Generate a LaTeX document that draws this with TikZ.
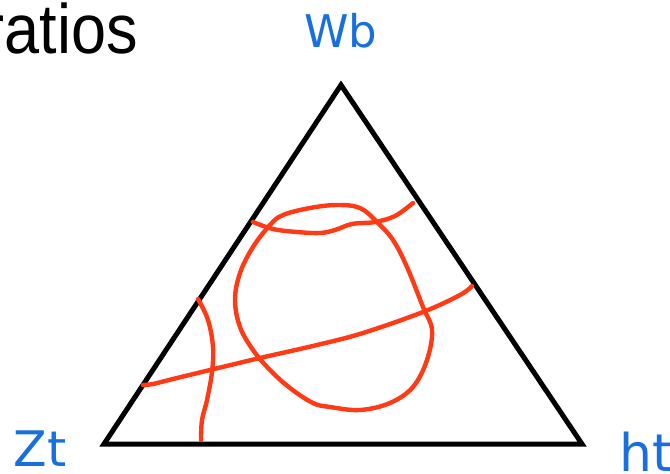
\documentclass[tikz,border=0pt]{standalone}
\usepackage{fontspec}
\setmainfont{Liberation Sans}
\newfontfamily\cornerfont{DejaVu Sans}
\usepackage{xcolor}
\definecolor{cornerblue}{RGB}{24,112,222}
\definecolor{sketchred}{RGB}{255,58,20}
\usetikzlibrary{calc,positioning}

\begin{document}
\begin{tikzpicture}[
    x=1pt,
    y=-1pt,
    outline/.style={
        line width=5pt,
        line join=miter,
        draw=black
    },
    sketch/.style={
        line width=4.4pt,
        draw=sketchred,
        line cap=round,
        line join=round
    },
    cornerlabel/.style={
        text=cornerblue,
        inner sep=0pt,
        font=\cornerfont\fontsize{45}{45}\selectfont
    }
]

\useasboundingbox (0,0) rectangle (670,474);
\clip (0,0) rectangle (670,474);

% ---------------------------------------------------------
% Heading (cut at the left edge)
% ---------------------------------------------------------

\node[
    anchor=base east,
    inner sep=0pt,
    xscale=0.9,
    font=\fontsize{70}{70}\selectfont
] (ratios) at (138,53) {ratios};

% ---------------------------------------------------------
% Triangle and corner labels
% ---------------------------------------------------------

\coordinate (Zt) at (104,444);
\coordinate (Wb) at (341,85);
\coordinate (ht) at (582,444);

\draw[outline] (Zt) -- (Wb) -- (ht) -- cycle;

\node[cornerlabel,anchor=base] (wblabel) at (341,47) {Wb};
\node[cornerlabel,anchor=base,
    font=\cornerfont\fontsize{49}{49}\selectfont]
    (ztlabel) at (40,466) {Zt};
\node[cornerlabel,anchor=base west,
    font=\cornerfont\fontsize{52}{52}\selectfont]
    (htlabel) at (619,471) {ht};

% ---------------------------------------------------------
% Hand-drawn red curves
% ---------------------------------------------------------

% closed loop
\draw[sketch] plot[smooth cycle,tension=0.6] coordinates {
    (337,205) (360,208) (377,222) (393,240) (407,267) (423,307)
    (432,330) (427,360) (413,387) (390,403) (360,410) (330,407)
    (313,403) (290,388) (270,370) (253,350) (240,327) (235,300)
    (240,273) (253,247) (270,225) (283,215) (310,208)};

% wavy line near the top
\draw[sketch] plot[smooth,tension=0.6] coordinates {
    (253,222) (273,229) (297,232) (320,233) (335,230) (352,224)
    (375,222) (395,216) (413,203)};

% long line across
\draw[sketch] plot[smooth,tension=0.6] coordinates {
    (143,385) (153,384) (173,379) (210,370) (260,358) (317,345)
    (363,333) (423,312) (460,295) (472,286)};

% arc on the left
\draw[sketch] plot[smooth,tension=0.6] coordinates {
    (198,299) (208,320) (213,347) (212,372) (207,400) (202,420)
    (201,440)};

\end{tikzpicture}
\end{document}
